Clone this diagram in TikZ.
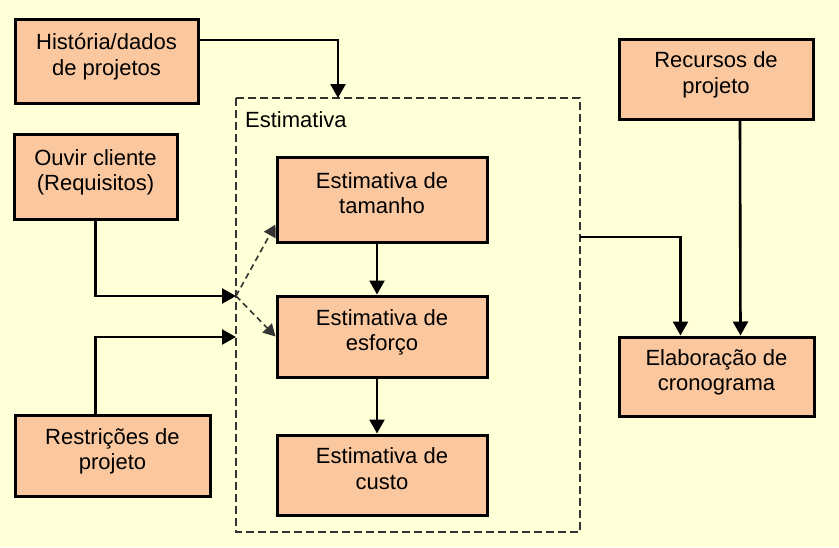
\documentclass[tikz,border=0pt]{standalone}
\usepackage{fontspec}
\setmainfont{Liberation Sans}
\usetikzlibrary{arrows.meta}
\definecolor{fundo}{RGB}{255,255,216}
\definecolor{caixa}{RGB}{250,199,158}
\begin{document}
\begin{tikzpicture}[x=1pt,y=-1pt,
        bloco/.style={draw,line width=3pt,fill=caixa,align=center,inner sep=0pt,text depth=13pt,font=\fontsize{22}{25.5}\selectfont},
        conn/.style={line width=2.6pt,-{Triangle[width=15pt,length=14pt]}},
        dconn/.style={line width=1.6pt,dash pattern=on 6pt off 4pt,black!80,-{Triangle[width=13pt,length=12pt]}}]
            \fill[fundo] (0,0) rectangle (839,547);
            \draw[black!80,line width=1.5pt,dash pattern=on 8pt off 4pt] (236,98) rectangle (580,532);
            \node[anchor=west,inner sep=0pt,font=\fontsize{22}{25.5}\selectfont] (estlabel) at (245,120) {Estimativa};
            \node[bloco,minimum width=183pt,minimum height=84pt] (hist) at (106.5,61) {História/dados\\de projetos};
            \node[bloco,minimum width=163pt,minimum height=85pt] (ouvir) at (95.5,176.5) {Ouvir cliente\\(Requisitos)};
            \node[bloco,minimum width=195pt,minimum height=81pt] (restr) at (112.5,455.5) {Restrições de\\projeto};
            \node[bloco,minimum width=210pt,minimum height=85pt] (tam) at (382,199.5) {Estimativa de\\tamanho};
            \node[bloco,minimum width=210pt,minimum height=81pt] (esf) at (382,336.5) {Estimativa de\\esforço};
            \node[bloco,minimum width=210pt,minimum height=80pt] (custo) at (382,475) {Estimativa de\\custo};
            \node[bloco,minimum width=194pt,minimum height=80pt] (recur) at (716,79) {Recursos de\\projeto};
            \node[bloco,minimum width=195pt,minimum height=79pt] (elab) at (716.5,376.5) {Elaboração de\\cronograma};

            \coordinate (topo) at (338,98);
            \coordinate (entA) at (236,296);
            \coordinate (entB) at (236,337);
            \coordinate (saida) at (580,237);

            \draw[conn] ([yshift=21pt]hist.east) -| (topo);
            \draw[conn] (ouvir.south) |- (entA);
            \draw[conn] (ouvir.south |- restr.north) |- (entB);
            \draw[dconn] (entA) -- ([yshift=-25pt]tam.west);
            \draw[dconn] (entA) -- (esf.west);
            \draw[conn] ([xshift=-5pt]tam.south) -- ([xshift=-5pt]esf.north);
            \draw[conn] ([xshift=-5pt]esf.south) -- ([xshift=-5pt]custo.north);
            \draw[conn] (saida) -| ([xshift=-36pt]elab.north);
            \draw[conn] ([xshift=24pt]recur.south) -- ([xshift=24pt]elab.north);
        \end{tikzpicture}
\end{document}
